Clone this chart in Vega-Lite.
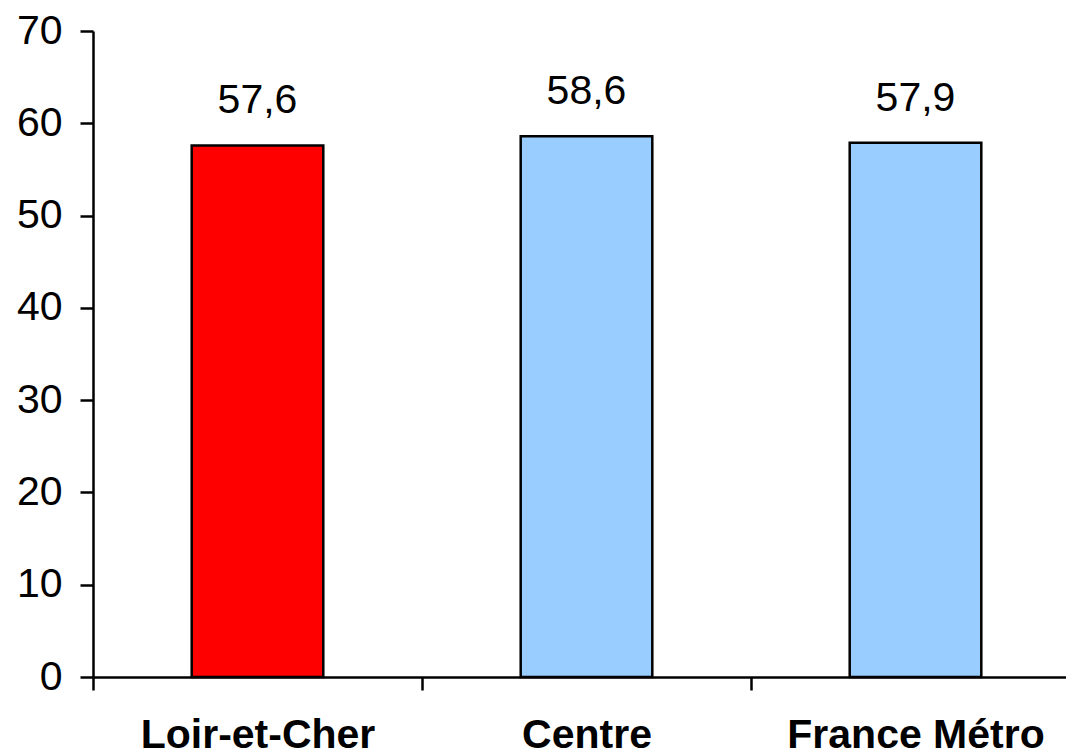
{
  "$schema": "https://vega.github.io/schema/vega-lite/v6.json",
  "autosize": "none",
  "padding": {"left": 93, "top": 31, "right": 0, "bottom": 79},
  "width": 987,
  "height": 646,
  "background": "white",
  "config": {"view": {"stroke": null}, "font": "Liberation Sans"},
  "data": {"values": [
    {"zone": "Loir-et-Cher", "value": 57.6, "label": "57,6", "color": "#FF0000"},
    {"zone": "Centre", "value": 58.6, "label": "58,6", "color": "#99CCFF"},
    {"zone": "France Métro", "value": 57.9, "label": "57,9", "color": "#99CCFF"}
  ]},
  "encoding": {
    "x": {"field": "zone", "type": "nominal", "sort": null,
      "scale": {"paddingInner": 0, "paddingOuter": 0},
      "axis": {"title": null, "labelAngle": 0, "bandPosition": 0, "tickBand": "extent",
        "domainColor": "black", "domainWidth": 2.5, "tickColor": "black", "tickWidth": 2.5, "tickSize": 13,
        "labelFont": "Liberation Sans", "labelFontSize": 41, "labelFontWeight": "bold", "labelColor": "black",
        "labelPadding": 25, "labelBaseline": "top", "labelFlush": false, "labelLimit": 0, "labelOverlap": false}},
    "y": {"field": "value", "type": "quantitative",
      "scale": {"domain": [0, 70], "nice": false},
      "axis": {"title": null, "values": [0, 10, 20, 30, 40, 50, 60, 70], "grid": false,
        "domainColor": "black", "domainWidth": 2.5, "tickColor": "black", "tickWidth": 2.5, "tickSize": 13,
        "labelFont": "Liberation Sans", "labelFontSize": 41, "labelColor": "black", "labelPadding": 18}}
  },
  "layer": [
    {"mark": {"type": "bar", "width": {"band": 0.4}, "stroke": "black", "strokeWidth": 2.5},
     "encoding": {"color": {"field": "color", "type": "nominal", "scale": null}}},
    {"mark": {"type": "text", "fontSize": 41, "baseline": "alphabetic", "dy": -32, "color": "black", "font": "Liberation Sans"},
     "encoding": {"text": {"field": "label"}}}
  ]
}
